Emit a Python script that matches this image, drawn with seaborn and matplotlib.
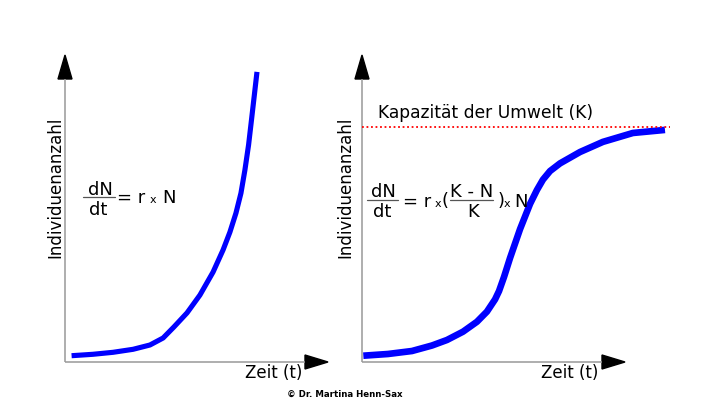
import matplotlib
matplotlib.use("Agg")
import matplotlib.pyplot as plt
from matplotlib.patches import Polygon
import seaborn as sns

# exponentielles Wachstum (Zeit, Individuenanzahl)
t_exp = [0.25, 1.06, 1.83, 2.59, 3.23, 3.73, 4.14, 4.64, 5.13, 5.63, 6.01, 6.27,
         6.50, 6.69, 6.84, 6.98, 7.09, 7.20, 7.30]
n_exp = [2.05, 2.51, 3.16, 4.14, 5.54, 7.82, 11.4, 16.0, 21.8, 29.3, 36.5, 42.3,
         48.5, 55.0, 62.5, 70.7, 78.8, 87.0, 94.5]

# logistisches Wachstum
t_log = [0.05, 0.99, 1.90, 2.66, 3.23, 3.84, 4.37, 4.75, 5.06, 5.21, 5.40, 5.63,
         6.01, 6.39, 6.65, 6.88, 7.15, 7.53, 8.29, 9.16, 10.30, 11.52]
n_log = [2.05, 2.61, 3.58, 5.37, 7.17, 9.87, 13.1, 16.4, 20.4, 23.1, 27.7, 33.9,
         43.3, 51.5, 56.0, 59.4, 62.2, 64.7, 68.4, 71.7, 74.6, 75.6]

# Kapazitaet der Umwelt
k_level = 76.6
k_range = [0, 11.7]

W, H = 720, 417


def fx(px):
    return px / W


def fy(py):
    return 1 - py / H


sns.set_style("white")
plt.rcParams['font.family'] = ['DejaVu Sans']

fig = plt.figure(figsize=(7.2, 4.17), dpi=100)


def make_axes(x0, y0, x1, y1):
    ax = fig.add_axes([fx(x0), fy(y1), (x1 - x0) / W, (y1 - y0) / H])
    ax.set_xlim(0, 10)
    ax.set_ylim(0, 100)
    for s in ax.spines.values():
        s.set_visible(False)
    ax.set_xticks([])
    ax.set_yticks([])
    ax.patch.set_alpha(0)
    wpx, hpx = x1 - x0, y1 - y0
    # Achsen mit Pfeilspitzen
    ax.plot([0, 0], [0, 1 - 24 / hpx], color="#999999", lw=1.1,
            transform=ax.transAxes, clip_on=False)
    ax.plot([0, 1 - 23 / wpx], [0, 0], color="#999999", lw=1.1,
            transform=ax.transAxes, clip_on=False)
    ax.add_patch(Polygon([(-7 / wpx, 1 - 24 / hpx), (7 / wpx, 1 - 24 / hpx), (0, 1)],
                         closed=True, color="black", transform=ax.transAxes, clip_on=False))
    ax.add_patch(Polygon([(1 - 23 / wpx, 7 / hpx), (1 - 23 / wpx, -7 / hpx), (1, 0)],
                         closed=True, color="black", transform=ax.transAxes, clip_on=False))
    return ax


ax1 = make_axes(65, 55, 328, 362)
ax2 = make_axes(362, 55, 625, 362)

sns.lineplot(x=t_exp, y=n_exp, ax=ax1, color="#0000ff", linewidth=3.7,
             estimator=None, sort=False)
sns.lineplot(x=t_log, y=n_log, ax=ax2, color="#0000ff", linewidth=4.8,
             estimator=None, sort=False)
for ax in (ax1, ax2):
    for ln in ax.lines:
        ln.set_clip_on(False)
        ln.set_solid_capstyle("butt")
        ln.set_solid_joinstyle("round")

ax2.plot(k_range, [k_level, k_level], linestyle=(0, (1, 1.5)), color="red",
         lw=1.3, clip_on=False)


def txt(px, py, s, size=12, **kw):
    kw.setdefault("va", "baseline")
    fig.text(fx(px), fy(py), s, fontsize=size, color="black", **kw)


def hline(x0, x1, py):
    fig.add_artist(plt.Line2D([fx(x0), fx(x1)], [fy(py), fy(py)],
                              color="#555555", lw=0.9))


# Achsenbeschriftungen
txt(55.5, 187.5, "Individuenanzahl", rotation=90, ha="center", va="center")
txt(345, 187.5, "Individuenanzahl", rotation=90, ha="center", va="center")
txt(274, 378, "Zeit (t)", ha="center")
txt(570, 378, "Zeit (t)", ha="center")
txt(378, 118, "Kapazität der Umwelt (K)", 12.3, ha="left")

# Gleichung links
txt(100, 195, "dN", 13, ha="center")
hline(83, 115, 197.5)
txt(98, 215, "dt", 13, ha="center")
txt(117, 203, "= r", 13, ha="left")
txt(150, 203, "x", 8, ha="left")
txt(162, 203, "N", 13, ha="left")

# Gleichung rechts
txt(383, 197, "dN", 13, ha="center")
hline(367, 398, 199.5)
txt(382, 217, "dt", 13, ha="center")
txt(403, 207, "= r", 13, ha="left")
txt(435, 207, "x", 8, ha="left")
txt(441, 206, "(", 13, ha="left")
txt(472, 197, "K - N", 13, ha="center")
hline(450, 493, 199.5)
txt(473, 217, "K", 13, ha="center")
txt(498, 206, ")", 13, ha="left")
txt(504, 207, "x", 8, ha="left")
txt(514, 207, "N", 13, ha="left")

txt(345, 397, "© Dr. Martina Henn-Sax", 6.2, ha="center", fontweight="bold")

fig.savefig("out.png", dpi=100)
